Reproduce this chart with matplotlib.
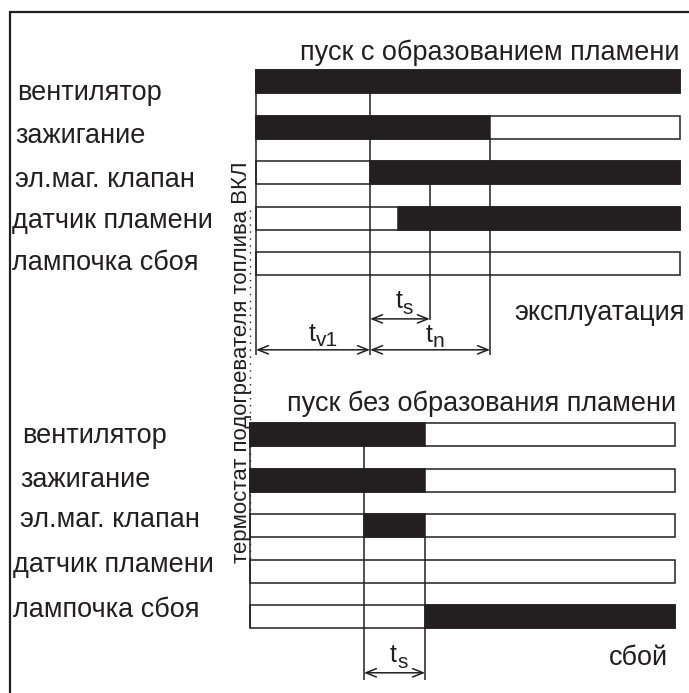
import matplotlib.pyplot as plt
from matplotlib.patches import Rectangle

plt.rcParams['font.family'] = ['Liberation Sans', 'DejaVu Sans']

# названия сигналов (одинаковые для обеих диаграмм)
signals = ["вентилятор", "зажигание", "эл.маг. клапан", "датчик пламени", "лампочка сбоя"]

# пуск с образованием пламени, время в % от ширины диаграммы
t_v1 = 26.9
t_flame = 33.5
t_s_end = 41.0
t_n_end = 55.2
on_ok = [[(0, 100)], [(0, t_n_end)], [(t_v1, 100)], [(t_flame, 100)], []]

# пуск без образования пламени
t_v1_b = 26.8
t_s_end_b = 41.2
on_fail = [[(0, t_s_end_b)], [(0, t_s_end_b)], [(t_v1_b, t_s_end_b)], [], [(t_s_end_b, 100)]]

INK = '#231f20'
LW = 1.1
W, H = 689, 693
PITCH = 45.5      # шаг строк, пиксели
BAR = 23 / PITCH  # высота полосы в долях шага

fig = plt.figure(figsize=(W / 100, H / 100), dpi=100)

# фон в пикселях: рамка, подписи
bg = fig.add_axes([0, 0, 1, 1])
bg.set_xlim(0, W)
bg.set_ylim(H, 0)
bg.axis('off')
bg.plot([10, 10, W], [H, 12, 12], color=INK, lw=1.6, solid_joinstyle='miter')


def section_axes(x0, x1, y0, y1):
    a = fig.add_axes([x0 / W, 1 - y1 / H, (x1 - x0) / W, (y1 - y0) / H])
    a.set_xlim(0, 100)
    a.set_ylim((y1 - y0) / PITCH, 0)
    a.axis('off')
    return a


def draw_rows(a, on_list):
    for i, segs in enumerate(on_list):
        a.add_patch(Rectangle((0, i), 100, BAR, facecolor='white', edgecolor=INK,
                              lw=LW, clip_on=False, zorder=2))
        for s, e in segs:
            a.add_patch(Rectangle((s, i), e - s, BAR, facecolor=INK, edgecolor=INK,
                                  lw=LW, clip_on=False, zorder=2))


def arrow(a, s, e, y):
    a.annotate('', xy=(e, y), xytext=(s, y), annotation_clip=False,
               arrowprops=dict(arrowstyle='<->,head_length=0.5,head_width=0.2',
                               lw=1.1, color=INK, shrinkA=0, shrinkB=0,
                               mutation_scale=15))


def tlabel(a, x, y, sub):
    # "t" с индексом: индекс почти того же размера, чуть ниже
    a.annotate('t', xy=(x, y), xytext=(0, 0), textcoords='offset points',
               fontsize=18, color=INK, ha='right', va='baseline',
               annotation_clip=False)
    a.annotate(sub, xy=(x, y), xytext=(0.5, -4), textcoords='offset points',
               fontsize=15, color=INK, ha='left', va='baseline',
               annotation_clip=False)


# --- верхняя диаграмма ---
top = section_axes(256, 680, 70, 360)
draw_rows(top, on_ok)
bottom_y = 6.26
top.vlines(0, 0, bottom_y, color=INK, lw=LW, zorder=3, clip_on=False)
top.vlines(t_v1, BAR, bottom_y, color=INK, lw=LW, zorder=3, clip_on=False)
top.vlines(t_s_end, 2 + BAR, 5.49, color=INK, lw=LW, zorder=3, clip_on=False)
top.vlines(t_n_end, 1 + BAR, bottom_y, color=INK, lw=LW, zorder=3, clip_on=False)
arrow(top, t_v1, t_s_end, 5.47)
arrow(top, 0, t_v1, 6.15)
arrow(top, t_v1, t_n_end, 6.15)
tlabel(top, (t_v1 + t_s_end) / 2 + 0.5, 5.23, 's')
tlabel(top, t_v1 / 2 + 0.5, 5.95, 'v1')
tlabel(top, (t_v1 + t_n_end) / 2 + 0.5, 5.97, 'n')

# --- нижняя диаграмма ---
bot = section_axes(250, 675, 423, 685)
draw_rows(bot, on_fail)
end_y = 5.65
bot.vlines(0, 0, 4 + BAR, color=INK, lw=LW, zorder=3, clip_on=False)
bot.vlines(t_v1_b, BAR, end_y, color=INK, lw=LW, zorder=3, clip_on=False)
bot.vlines(t_s_end_b, 2 + BAR, end_y, color=INK, lw=LW, zorder=3, clip_on=False)
arrow(bot, t_v1_b, t_s_end_b, 5.49)
tlabel(bot, (t_v1_b + t_s_end_b) / 2 + 0.5, 5.26, 's')

# подписи строк
top_base = [100, 143, 187, 228, 270]
top_x = [17, 15, 15, 12, 12]
bot_base = [443, 487, 527, 572, 617]
bot_x = [22, 20, 20, 13, 13]
for name, x, y in zip(signals, top_x, top_base):
    bg.text(x, y, name, fontsize=19.5, color=INK, va='baseline')
for name, x, y in zip(signals, bot_x, bot_base):
    bg.text(x, y, name, fontsize=19.5, color=INK, va='baseline')

bg.text(680, 60, "пуск с образованием пламени", fontsize=19.5, color=INK,
        ha='right', va='baseline')
bg.text(676, 411, "пуск без образования пламени", fontsize=19.5, color=INK,
        ha='right', va='baseline')
bg.text(685, 320, "эксплуатация", fontsize=19.5, color=INK, ha='right', va='baseline')
bg.text(668, 665, "сбой", fontsize=19.5, color=INK, ha='right', va='baseline')

# термостат и пунктир
bg.text(247, 563, "термостат подогревателя топлива ВКЛ", fontsize=16, color=INK,
        rotation=90, rotation_mode='anchor', ha='left', va='baseline')
bg.plot([250, 250], [210, 585], color=INK, lw=1.0, linestyle=(0, (1, 4)))

plt.savefig('out.png', dpi=100)
